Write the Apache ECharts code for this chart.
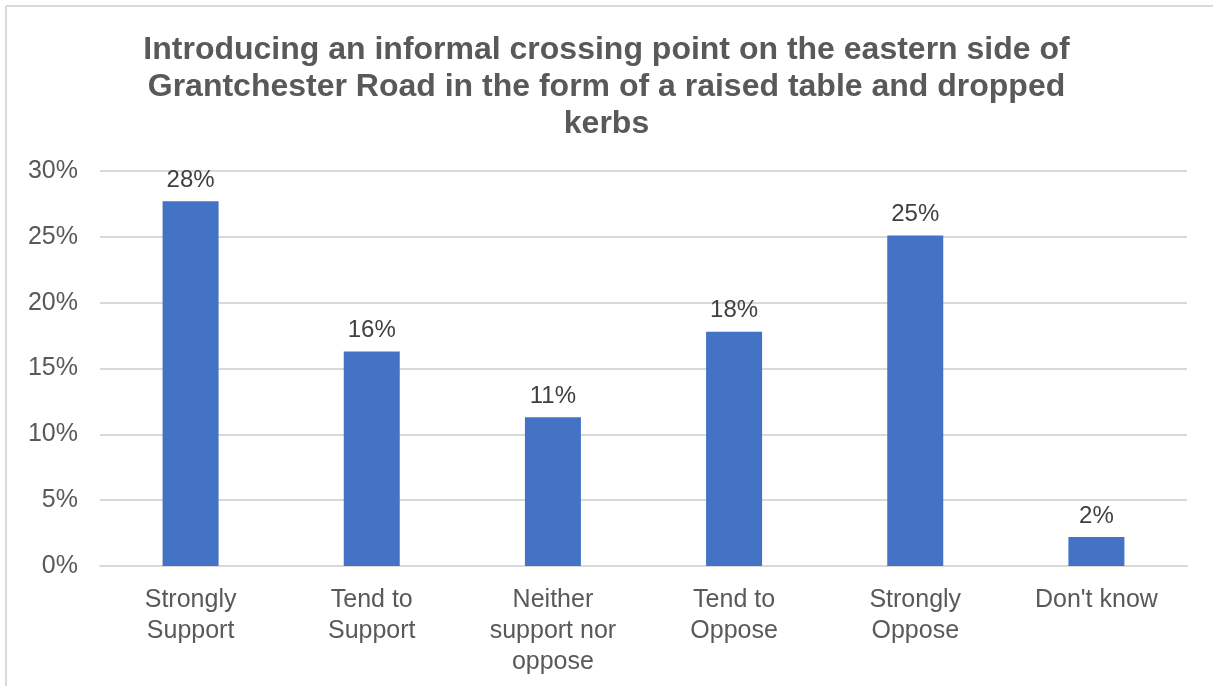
<!DOCTYPE html>
<html>
<head>
<meta charset="utf-8">
<script src="https://cdn.jsdelivr.net/npm/echarts@6/dist/echarts.min.js"></script>
<style>
  html, body { margin: 0; padding: 0; background: #fff; }
  #chart { width: 1213px; height: 686px; }
</style>
</head>
<body>
<div id="chart"></div>
<script>
// Survey responses (share of respondents)
const categories = ['Strongly\nSupport', 'Tend to\nSupport', 'Neither\nsupport nor\noppose', 'Tend to\nOppose', 'Strongly\nOppose', "Don't know"];
const shares = [0.277, 0.163, 0.113, 0.178, 0.251, 0.022];
const yTicks = [0, 0.05, 0.10, 0.15, 0.20, 0.25, 0.30];

const titleText = 'Introducing an informal crossing point on the eastern side of\nGrantchester Road in the form of a raised table and dropped\nkerbs';

const chart = echarts.init(document.getElementById('chart'));
const font = 'Arial, "Liberation Sans", sans-serif';

chart.setOption({
  backgroundColor: '#ffffff',
  animation: false,
  title: {
    text: titleText,
    left: 'center',
    top: 27,
    textStyle: {
      fontFamily: font,
      fontSize: 32,
      fontWeight: 'bold',
      color: '#595959',
      lineHeight: 37,
      align: 'center'
    }
  },
  graphic: [
    { type: 'line', shape: { x1: 6, y1: 6, x2: 1213, y2: 6 }, style: { stroke: '#d9d9d9', lineWidth: 2 } },
    { type: 'line', shape: { x1: 6, y1: 6, x2: 6, y2: 686 }, style: { stroke: '#d9d9d9', lineWidth: 2 } }
  ],
  grid: { left: 100, right: 26, top: 171, bottom: 120 },
  xAxis: {
    type: 'category',
    data: categories,
    axisLine: { show: true, lineStyle: { color: '#d9d9d9', width: 2 } },
    axisTick: { show: false },
    axisLabel: {
      fontFamily: font,
      fontSize: 25,
      color: '#595959',
      lineHeight: 31,
      margin: 19,
      interval: 0
    }
  },
  yAxis: {
    type: 'value',
    min: yTicks[0],
    max: yTicks[yTicks.length - 1],
    interval: 0.05,
    axisLine: { show: false },
    axisTick: { show: false },
    splitLine: { lineStyle: { color: '#d9d9d9', width: 2 } },
    axisLabel: {
      fontFamily: font,
      fontSize: 25,
      color: '#595959',
      margin: 22,
      formatter: v => Math.round(v * 100) + '%'
    }
  },
  series: [{
    type: 'bar',
    data: shares,
    barWidth: 56,
    itemStyle: { color: '#4472c4' },
    label: {
      show: true,
      position: 'top',
      distance: 9,
      fontFamily: font,
      fontSize: 24,
      color: '#404040',
      formatter: p => Math.round(p.value * 100) + '%'
    }
  }]
});
</script>
</body>
</html>
